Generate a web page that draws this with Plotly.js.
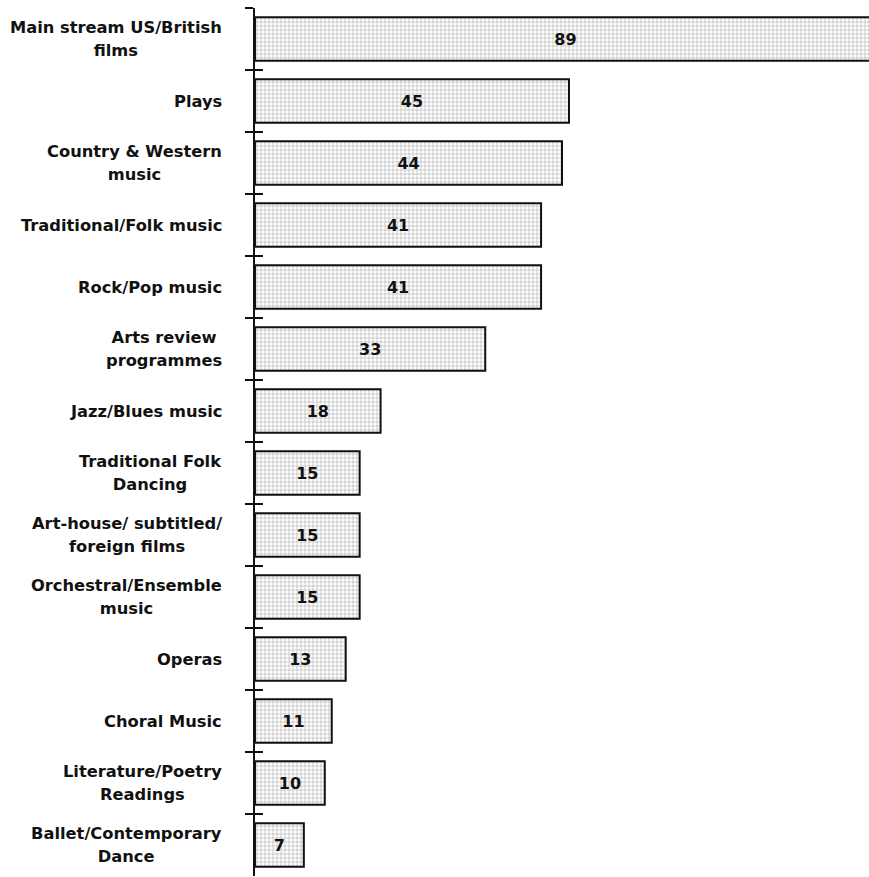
<!DOCTYPE html>
<html>
<head>
<meta charset="utf-8">
<script src="https://cdn.plot.ly/plotly-3.0.1.min.js"></script>
<style>
  html, body { margin: 0; padding: 0; background: #fff; }
  #chart { width: 869px; height: 877px; }
</style>
</head>
<body>
<div id="chart"></div>
<script>
// Arts and media participation, counts per category (top to bottom)
const categories = [
  "Main stream US/British<br>films",
  "Plays",
  "Country & Western<br>music",
  "Traditional/Folk music",
  "Rock/Pop music",
  "Arts review<br>programmes",
  "Jazz/Blues music",
  "Traditional Folk<br>Dancing",
  "Art-house/ subtitled/<br>foreign films",
  "Orchestral/Ensemble<br>music",
  "Operas",
  "Choral Music",
  "Literature/Poetry<br>Readings",
  "Ballet/Contemporary<br>Dance"
];
const values = [89, 45, 44, 41, 41, 33, 18, 15, 15, 15, 13, 11, 10, 7];

const ink = "#111111";
const catIds = categories.map((c, i) => "c" + i);
const catRange = [categories.length - 0.5, -0.5];

const bars = {
  type: "bar",
  orientation: "h",
  x: values,
  y: catIds,
  text: values.map(String),
  textposition: "inside",
  insidetextanchor: "middle",
  textangle: 0,
  constraintext: "none",
  textfont: { family: "DejaVu Sans", size: 16, weight: "bold", color: ink },
  marker: {
    color: "#ffffff",
    line: { color: ink, width: 2 },
    pattern: { shape: "+", size: 4, solidity: 0.35, fgcolor: "#7a7a7a", bgcolor: "#ffffff", fillmode: "overlay" }
  },
  hoverinfo: "skip",
  cliponaxis: true
};

// carrier for the inner half of the boundary ticks
const tickCarrier = {
  type: "scatter",
  mode: "markers",
  x: values.map(() => 0),
  y: catIds,
  yaxis: "y2",
  marker: { opacity: 0 },
  hoverinfo: "skip",
  showlegend: false
};

const labels = categories.map((c, i) => ({
  xref: "paper",
  yref: "y",
  x: 0,
  y: catIds[i],
  xanchor: "right",
  yanchor: "middle",
  xshift: -31,
  align: "center",
  showarrow: false,
  text: "<span style='font-size:16.3px'>" + c.split("<br>").join("</span><br><span style='font-size:16.3px'>") + "</span>",
  font: { family: "DejaVu Sans", size: 18, weight: "bold", color: ink }
}));

const yCommon = {
  type: "category",
  categoryorder: "array",
  categoryarray: catIds,
  range: catRange,
  tickson: "boundaries",
  ticklen: 8,
  tickwidth: 2,
  tickcolor: ink,
  showticklabels: false,
  showgrid: false,
  zeroline: false,
  fixedrange: true
};

const layout = {
  width: 869,
  height: 877,
  margin: { l: 255, r: 0, t: 8, b: 1, pad: 0 },
  paper_bgcolor: "#ffffff",
  plot_bgcolor: "#ffffff",
  showlegend: false,
  bargap: 0.3,
  xaxis: {
    range: [0, 88],
    visible: false,
    fixedrange: true
  },
  yaxis: Object.assign({}, yCommon, {
    ticks: "outside",
    showline: true,
    linecolor: ink,
    linewidth: 2
  }),
  yaxis2: Object.assign({}, yCommon, {
    overlaying: "y",
    anchor: "x",
    side: "left",
    ticks: "inside",
    showline: false
  }),
  annotations: labels
};

Plotly.newPlot("chart", [bars, tickCarrier], layout, { displayModeBar: false, staticPlot: true });
</script>
</body>
</html>
